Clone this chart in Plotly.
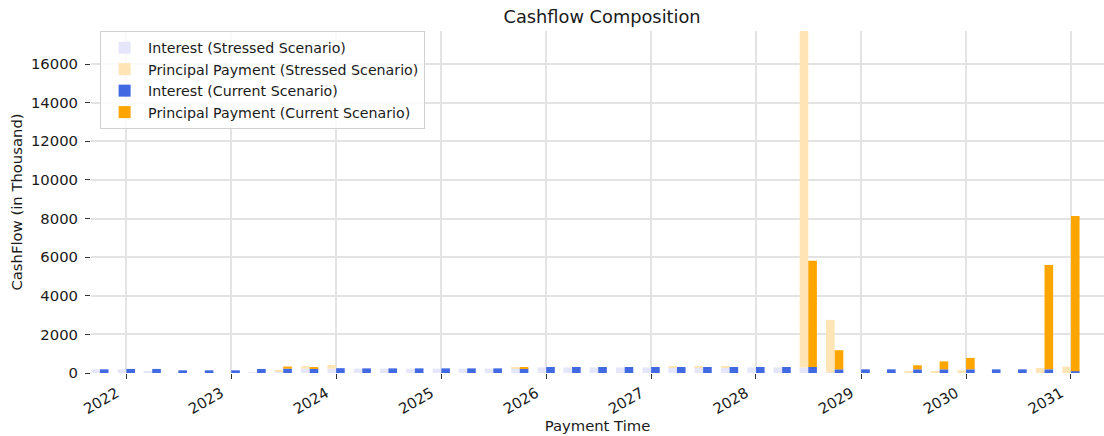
import plotly.graph_objects as go

# ---------------- data ----------------
payment_dates = [
    "2021-10-01", "2022-01-01", "2022-04-01", "2022-07-01", "2022-10-01",
    "2023-01-01", "2023-04-01", "2023-07-01", "2023-10-01", "2024-01-01",
    "2024-04-01", "2024-07-01", "2024-10-01", "2025-01-01", "2025-04-01",
    "2025-07-01", "2025-10-01", "2026-01-01", "2026-04-01", "2026-07-01",
    "2026-10-01", "2027-01-01", "2027-04-01", "2027-07-01", "2027-10-01",
    "2028-01-01", "2028-04-01", "2028-07-01", "2028-10-01", "2029-01-01",
    "2029-04-01", "2029-07-01", "2029-10-01", "2030-01-01", "2030-04-01",
    "2030-07-01", "2030-10-01", "2031-01-01",
]

interest_stressed = [
    190, 190, 100, 0, 0,
    0, 35, 60, 225, 225,
    225, 225, 225, 225, 225,
    225, 225, 290, 290, 290,
    290, 290, 290, 290, 290,
    290, 290, 290, 30, 0,
    0, 0, 0, 0, 0,
    0, 0, 0,
]

principal_stressed = [
    0, 0, 0, 0, 0,
    0, 0, 100, 130, 190,
    0, 0, 0, 0, 0,
    0, 70, 0, 0, 0,
    0, 0, 60, 60, 60,
    0, 0, 17500, 2720, 0,
    0, 90, 70, 140, 0,
    0, 260, 330,
]

interest_current = [
    190, 210, 210, 140, 140,
    140, 210, 225, 240, 250,
    240, 240, 240, 240, 240,
    240, 240, 310, 310, 310,
    310, 310, 310, 310, 310,
    310, 310, 310, 190, 190,
    190, 190, 190, 190, 190,
    190, 190, 90,
]

principal_current = [
    0, 0, 0, 0, 0,
    0, 0, 110, 60, 0,
    0, 0, 0, 0, 0,
    0, 60, 0, 0, 0,
    0, 0, 0, 0, 0,
    0, 0, 5500, 990, 0,
    0, 210, 410, 590, 0,
    0, 5400, 8040,
]

series_names = [
    "Interest (Stressed Scenario)",
    "Principal Payment (Stressed Scenario)",
    "Interest (Current Scenario)",
    "Principal Payment (Current Scenario)",
]

y_tick_values = [0, 2000, 4000, 6000, 8000, 10000, 12000, 14000, 16000]
y_tick_labels = ["0", "2000", "4000", "6000", "8000", "10000", "12000", "14000", "16000"]
year_tick_values = ["2022-01-01", "2023-01-01", "2024-01-01", "2025-01-01",
                    "2026-01-01", "2027-01-01", "2028-01-01", "2029-01-01",
                    "2030-01-01", "2031-01-01"]
year_tick_labels = ["2022", "2023", "2024", "2025", "2026",
                    "2027", "2028", "2029", "2030", "2031"]

# ---------------- style ----------------
FONT = "DejaVu Sans"
TXT = "#1a1a1a"
GRID = "#e3e3e3"
BAR_W = 30 * 24 * 3600 * 1000  # 30 days in ms

colors = ["#E6E6FA", "#FFE4B5", "#4169E1", "#FFA500"]

fig = go.Figure()
fig.add_trace(go.Bar(x=payment_dates, y=interest_stressed, name=series_names[0],
                     offset=-BAR_W, width=BAR_W, marker_color=colors[0],
                     marker_line_width=0))
fig.add_trace(go.Bar(x=payment_dates, y=principal_stressed, base=interest_stressed,
                     name=series_names[1], offset=-BAR_W, width=BAR_W,
                     marker_color=colors[1], marker_line_width=0))
fig.add_trace(go.Bar(x=payment_dates, y=interest_current, name=series_names[2],
                     offset=0, width=BAR_W, marker_color=colors[2],
                     marker_line_width=0))
fig.add_trace(go.Bar(x=payment_dates, y=principal_current, base=interest_current,
                     name=series_names[3], offset=0, width=BAR_W,
                     marker_color=colors[3], marker_line_width=0))

fig.update_layout(
    width=1104, height=436,
    barmode="overlay",
    paper_bgcolor="white", plot_bgcolor="white",
    margin=dict(l=91, r=0, t=31, b=63, pad=0),
    font=dict(family=FONT, size=14.8, color=TXT),
    title=dict(text="Cashflow Composition", font=dict(family=FONT, size=17.8, color=TXT),
               x=0.5045, xref="paper", xanchor="center",
               y=1 - 17 / 436, yref="container", yanchor="middle"),
    legend=dict(x=0.009, y=1.0, xanchor="left", yanchor="top",
                bgcolor="rgba(255,255,255,0.8)", bordercolor="#d0d0d0", borderwidth=1,
                font=dict(family=FONT, size=14.2, color=TXT), traceorder="normal",
                itemwidth=37, tracegroupgap=0),
    showlegend=True,
)

fig.update_xaxes(
    type="date",
    range=["2021-08-31", "2031-04-26"],
    tickmode="array", tickvals=year_tick_values, ticktext=year_tick_labels,
    tickangle=-30,
    ticks="outside", ticklen=5, tickwidth=1, tickcolor="#333333",
    ticklabelshift=-10, ticklabelstandoff=0,
    showgrid=True, gridcolor=GRID, gridwidth=1.6,
    showline=False, zeroline=False,
    title=dict(text="Payment Time", font=dict(family=FONT, size=14.8, color=TXT), standoff=0),
    tickfont=dict(family=FONT, size=14.8, color=TXT),
    automargin=False,
)

fig.update_yaxes(
    range=[0, 17710],
    tickmode="array", tickvals=y_tick_values, ticktext=y_tick_labels,
    ticks="outside", ticklen=5, tickwidth=1, tickcolor="#333333",
    ticklabelstandoff=4,
    showgrid=True, gridcolor=GRID, gridwidth=1.6,
    showline=False, zeroline=False,
    title=dict(text="CashFlow (in Thousand)", font=dict(family=FONT, size=14.8, color=TXT), standoff=4),
    tickfont=dict(family=FONT, size=14.8, color=TXT),
    automargin=False,
)

fig.write_html("out.html", config={"displayModeBar": False},
               post_script="document.body.style.margin='0px';document.body.style.overflow='hidden';")
